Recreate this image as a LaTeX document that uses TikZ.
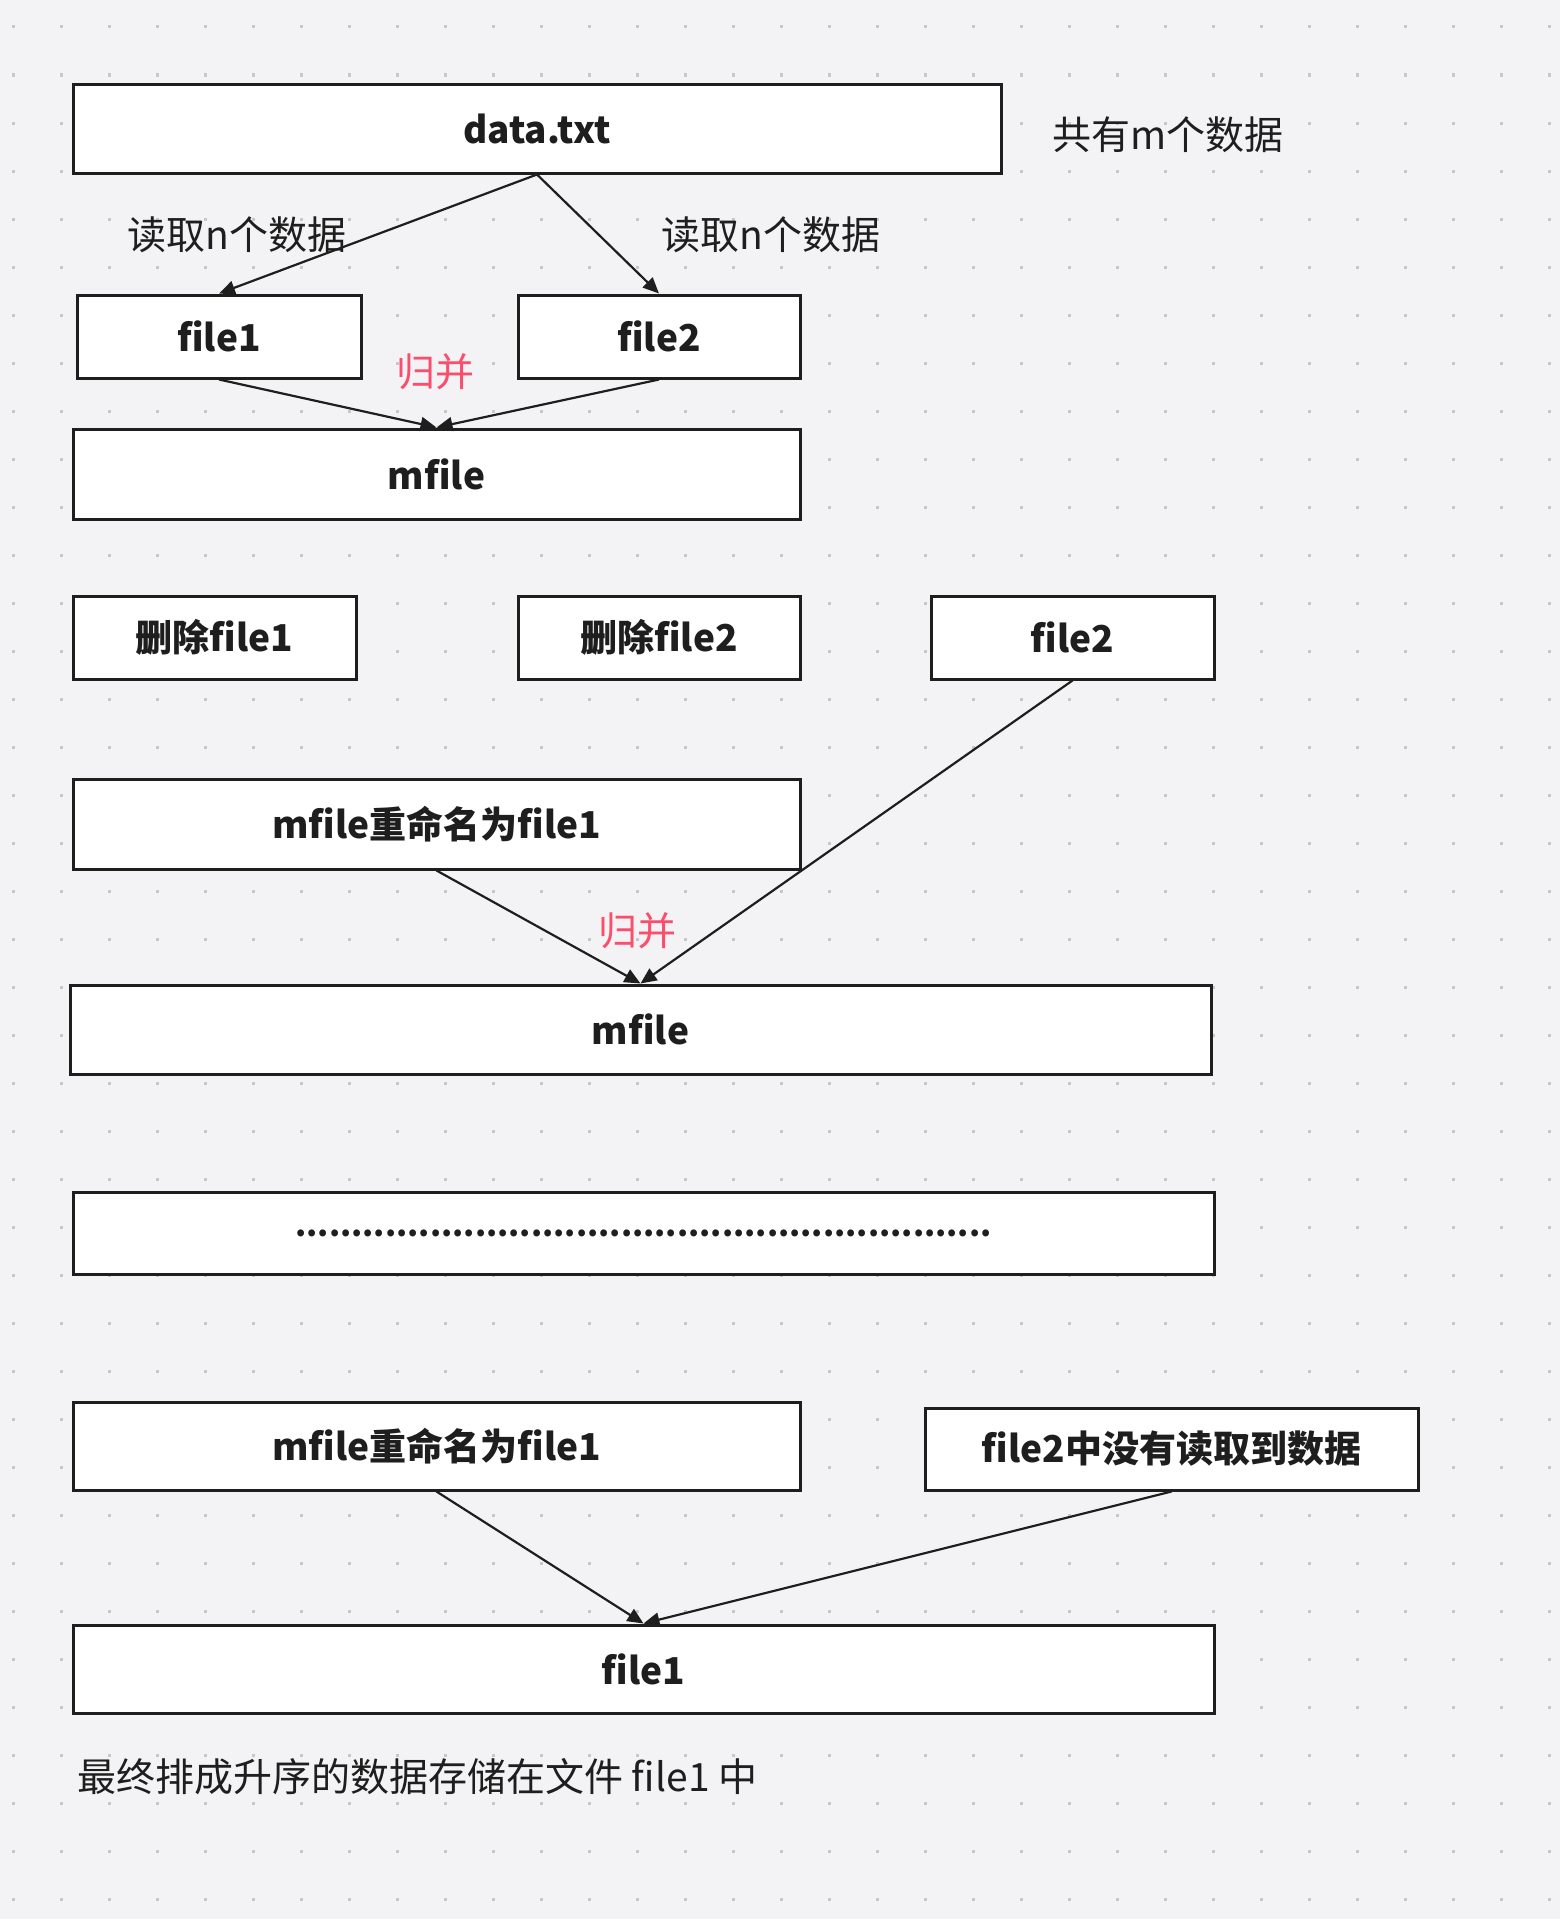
\documentclass[tikz,border=0pt]{standalone}
\usepackage{fontspec}
\setmainfont{Noto Sans CJK SC}
\usetikzlibrary{arrows.meta}
\definecolor{bg}{RGB}{243,243,245}
\definecolor{griddot}{RGB}{200,200,204}
\definecolor{ink}{RGB}{30,30,30}
\definecolor{mergered}{RGB}{250,78,108}

\begin{document}
\begin{tikzpicture}[x=1pt,y=-1pt,
  box/.style={draw=ink,line width=3pt,fill=white,text=ink,inner sep=0pt,
    font=\fontsize{37}{42}\selectfont\bfseries},
  note/.style={text=ink,inner sep=0pt,font=\fontsize{39}{44}\selectfont},
  merge/.style={text=mergered,inner sep=0pt,font=\fontsize{39}{44}\selectfont},
  arr/.style={draw=ink,line width=2.2pt,-{Triangle[length=16pt,width=14pt]}}]
% background and dot grid
\fill[bg] (0,0) rectangle (1560,1919);
\useasboundingbox (0,0) rectangle (1560,1919);
\foreach \i in {0,...,32}
  \foreach \j in {0,...,39}
    \fill[griddot] (13+48*\i-1.5,27+48*\j-1.5) rectangle ++(3,3);
% first merge
\node[box,minimum width=928pt,minimum height=89pt] (data) at (537,128.5) {data.txt};
\node[note] (total) at (1168,135) {共有m个数据};
\node[box,minimum width=284pt,minimum height=83pt] (file1) at (219,336.5) {file1};
\node[box,minimum width=282pt,minimum height=83pt] (file2) at (659,336.5) {file2};
\draw[arr] (data.south) -- (file1.north);
\draw[arr] (data.south) -- (file2.north);
\node[note] (readl) at (237,235) {读取n个数据};
\node[note] (readr) at (771,235) {读取n个数据};
\node[box,minimum width=727pt,minimum height=90pt] (mfilea) at (436.5,474) {mfile};
\draw[arr] (file1.south) -- (mfilea.north);
\draw[arr] (file2.south) -- (mfilea.north);
\node[merge] (mergea) at (435,372) {归并};
% second merge
\node[box,minimum width=283pt,minimum height=83pt] (del1) at (214.5,637.5) {删除file1};
\node[box,minimum width=282pt,minimum height=83pt] (del2) at (659,637.5) {删除file2};
\node[box,minimum width=283pt,minimum height=83pt] (file2b) at (1072.5,637.5) {file2};
\node[box,minimum width=727pt,minimum height=90pt] (renamea) at (436.5,824) {mfile重命名为file1};
\node[box,minimum width=1141pt,minimum height=89pt] (mfileb) at (640.5,1029.5) {mfile};
\draw[arr] (renamea.south) -- (mfileb.north);
\draw[arr] (file2b.south) -- (mfileb.north);
\node[merge] (mergeb) at (637,931) {归并};
\node[box,minimum width=1141pt,minimum height=82pt,
  font=\fontsize{32}{36}\selectfont\bfseries] (dots) at (643.5,1233)
  {..............................................................};
% last step
\node[box,minimum width=727pt,minimum height=88pt] (renameb) at (436.5,1446) {mfile重命名为file1};
\node[box,minimum width=493pt,minimum height=82pt] (nodata) at (1171.5,1449) {file2中没有读取到数据};
\node[box,minimum width=1141pt,minimum height=88pt] (final) at (643.5,1669) {file1};
\draw[arr] (renameb.south) -- (final.north);
\draw[arr] (nodata.south) -- (final.north);
\node[note,anchor=west] (result) at (77,1777) {最终排成升序的数据存储在文件 file1 中};
\end{tikzpicture}
\end{document}
